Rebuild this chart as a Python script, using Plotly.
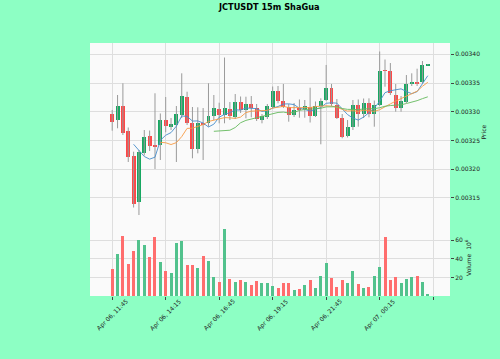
import plotly.graph_objects as go
import pandas as pd

# ---- data ----
open_ = [0.0032955, 0.0032850, 0.0033105, 0.0032664, 0.0032228, 0.0031422, 0.0032272, 0.0032582, 0.0032406, 0.0032420,
         0.0032850, 0.0032742, 0.0032760, 0.0032943, 0.0033261, 0.0032808, 0.0032345, 0.0032803, 0.0032798, 0.0032920,
         0.0033042, 0.0032951, 0.0033042, 0.0032908, 0.0033169, 0.0033030, 0.0033131, 0.0033056, 0.0032864, 0.0032908,
         0.0033087, 0.0033361, 0.0033195, 0.0033087, 0.0032943, 0.0033070, 0.0033047, 0.0033087, 0.0032930, 0.0033105,
         0.0033204, 0.0033413, 0.0033125, 0.0032899, 0.0032577, 0.0032739, 0.0033111, 0.0032956, 0.0033160, 0.0032956,
         0.0033117, 0.0033718, 0.0033709, 0.0033296, 0.0033073, 0.0033174, 0.0033477, 0.0033517, 0.0033523, 0.0033808]
high = [0.0033030, 0.0033291, 0.0033495, 0.0032725, 0.0032303, 0.0032333, 0.0032681, 0.0032672, 0.0033321, 0.0032969,
        0.0033256, 0.0032890, 0.0033099, 0.0033669, 0.0033348, 0.0033082, 0.0033077, 0.0033064, 0.0033495, 0.0033291,
        0.0033157, 0.0033944, 0.0033169, 0.0033308, 0.0033265, 0.0033261, 0.0033273, 0.0033134, 0.0032960, 0.0033134,
        0.0033439, 0.0033448, 0.0033483, 0.0033134, 0.0033152, 0.0033213, 0.0033204, 0.0033418, 0.0033178, 0.0033233,
        0.0033814, 0.0033483, 0.0033221, 0.0032960, 0.0032855, 0.0033204, 0.0033213, 0.0033230, 0.0033233, 0.0033195,
        0.0034049, 0.0033909, 0.0033848, 0.0033483, 0.0033273, 0.0033639, 0.0033669, 0.0033749, 0.0033883, 0.0033830]
low = [0.0032669, 0.0032711, 0.0032594, 0.0032124, 0.0031331, 0.0031200, 0.0032237, 0.0032315, 0.0032002, 0.0032159,
       0.0032641, 0.0032681, 0.0032124, 0.0032890, 0.0032768, 0.0032188, 0.0032275, 0.0032159, 0.0032739, 0.0032855,
       0.0032798, 0.0032798, 0.0032855, 0.0032873, 0.0032977, 0.0032885, 0.0032902, 0.0032838, 0.0032798, 0.0032873,
       0.0033064, 0.0033146, 0.0033064, 0.0032826, 0.0032908, 0.0032895, 0.0032895, 0.0032812, 0.0032908, 0.0032432,
       0.0033186, 0.0033099, 0.0032873, 0.0032537, 0.0032551, 0.0032681, 0.0032739, 0.0032890, 0.0032902, 0.0032739,
       0.0033099, 0.0033436, 0.0033291, 0.0033000, 0.0033000, 0.0033152, 0.0033448, 0.0033448, 0.0033500, 0.0033808]
close = [0.0032826, 0.0033105, 0.0032629, 0.0032216, 0.0031387, 0.0032303, 0.0032563, 0.0032399, 0.0032385, 0.0032852,
         0.0032751, 0.0032794, 0.0032960, 0.0033273, 0.0032812, 0.0032345, 0.0032808, 0.0032777, 0.0032925, 0.0033059,
         0.0032951, 0.0033059, 0.0032925, 0.0033169, 0.0033038, 0.0033131, 0.0033059, 0.0032873, 0.0032925, 0.0033099,
         0.0033361, 0.0033195, 0.0033087, 0.0032943, 0.0033030, 0.0033047, 0.0033091, 0.0032930, 0.0033108, 0.0033186,
         0.0033418, 0.0033134, 0.0032899, 0.0032565, 0.0032733, 0.0033117, 0.0032956, 0.0033160, 0.0032956, 0.0033122,
         0.0033709, 0.0033712, 0.0033326, 0.0033059, 0.0033186, 0.0033477, 0.0033523, 0.0033500, 0.0033814, 0.0033822]
volume = [28.6, 45.2, 64.3, 34.8, 48.4, 60.7, 54.6, 42.3, 63.2, 36.2,
          26.8, 25.1, 57.5, 59.6, 33.0, 33.0, 29.7, 42.7, 37.3, 20.3,
          14.6, 71.9, 18.2, 15.3, 16.8, 14.6, 11.4, 15.7, 13.5, 13.5,
          10.3, 8.1, 13.5, 13.5, 6.7, 7.7, 11.7, 16.8, 8.1, 21.4,
          35.9, 18.9, 9.2, 17.1, 13.5, 26.5, 13.2, 8.1, 9.2, 21.4,
          30.8, 63.6, 17.5, 20.3, 14.0, 17.8, 20.7, 21.4, 14.6, 1.6]

tick_idx = [0, 10, 20, 30, 40, 50, 60]
tick_labels = ["Apr 06, 11:45", "Apr 06, 14:15", "Apr 06, 16:45", "Apr 06, 19:15",
               "Apr 06, 21:45", "Apr 07, 00:15", ""]
price_ticks = [0.00315, 0.00320, 0.00325, 0.00330, 0.00335, 0.00340]
vol_ticks = [20, 40, 60]
mav_windows = [5, 10, 20]

TITLE = "JCTUSDT 15m ShaGua"

# ---- styles ----
FONT = "DejaVu Sans"
PAPER = "#8dffc4"
PLOTBG = "#fafafa"
GRID = "#dedede"
UP = "#17a862"
DOWN = "#ff4747"
VUP = "#52c28d"
VDOWN = "#ff6e6e"
WICK = "#9a9a9a"
MAV_COLORS = ["#4a8fcc", "#f89c45", "#66bb5e"]

n = len(close)
x = list(range(n))
is_up = [c > o for o, c in zip(open_, close)]
body_base = [min(o, c) for o, c in zip(open_, close)]
body_h = [max(abs(c - o), 1.1e-6) for o, c in zip(open_, close)]

wx, wy = [], []
for i in x:
    wx += [i, i, None]
    wy += [low[i], high[i], None]

fig = go.Figure()
fig.add_trace(go.Scatter(x=wx, y=wy, mode="lines", line=dict(color=WICK, width=1),
                         hoverinfo="skip", showlegend=False, xaxis="x", yaxis="y"))
fig.add_trace(go.Bar(x=x, y=body_h, base=body_base, width=0.74,
                     marker=dict(color=[UP if u else DOWN for u in is_up], line=dict(width=0)),
                     showlegend=False, xaxis="x", yaxis="y"))

cs = pd.Series(close)
for w, col in zip(mav_windows, MAV_COLORS):
    ma = cs.rolling(w).mean()
    fig.add_trace(go.Scatter(x=x, y=ma, mode="lines", line=dict(color=col, width=1),
                             opacity=0.9, showlegend=False, xaxis="x", yaxis="y"))

fig.add_trace(go.Bar(x=x, y=volume, width=0.56,
                     marker=dict(color=[VUP if u else VDOWN for u in is_up], line=dict(width=0)),
                     showlegend=False, xaxis="x", yaxis="y2"))

split = (296 - 222) / 253.0

fig.update_layout(
    width=500, height=359,
    margin=dict(l=90, r=50, t=43, b=63),
    paper_bgcolor=PAPER, plot_bgcolor=PLOTBG,
    font=dict(family=FONT, size=6, color="#222"),
    bargap=0, showlegend=False,
    title=dict(text="<b>" + TITLE + "</b>", x=0.498, xref="paper", xanchor="center",
               y=1 - 7.5 / 359, yanchor="middle", font=dict(size=8.2, family=FONT, color="#000")),
    xaxis=dict(domain=[0, 1], anchor="y2", range=[-4.15, 63.15],
               tickmode="array", tickvals=tick_idx,
               showticklabels=False, ticks="outside", ticklen=3, tickcolor="#444",
               showgrid=True, gridcolor=GRID, gridwidth=1, zeroline=False, showline=False),
    yaxis=dict(domain=[split, 1], anchor="x", side="right",
               range=[0.00310784, 0.0034197],
               tickmode="array", tickvals=price_ticks, tickformat=".5f",
               ticks="outside", ticklen=3, tickcolor="#444",
               showgrid=True, gridcolor=GRID, gridwidth=1, zeroline=False, showline=False,
               tickfont=dict(size=6)),
    yaxis2=dict(domain=[0, split], anchor="x", side="right",
                range=[0, 79.8],
                tickmode="array", tickvals=vol_ticks,
                ticks="outside", ticklen=3, tickcolor="#444",
                showgrid=True, gridcolor=GRID, gridwidth=1, zeroline=False, showline=False,
                tickfont=dict(size=6)),
)

# rotated x tick labels (centered on ticks)
for t, lab in zip(tick_idx, tick_labels):
    if lab:
        fig.add_annotation(x=t, xref="x", y=(296 - 315) / 253.0, yref="paper",
                           text=lab, showarrow=False, textangle=-45,
                           xanchor="center", yanchor="middle",
                           font=dict(size=6, family=FONT, color="#222"))

# axis titles
fig.add_annotation(x=(482.5 - 90) / 360.0, xref="paper", y=(296 - 132) / 253.0, yref="paper",
                   text="Price", showarrow=False, textangle=-90,
                   xanchor="center", yanchor="middle", font=dict(size=6, family=FONT, color="#222"))
fig.add_annotation(x=(468 - 90) / 360.0, xref="paper", y=(296 - 258) / 253.0, yref="paper",
                   text="Volume  10<sup>6</sup>", showarrow=False, textangle=-90,
                   xanchor="center", yanchor="middle", font=dict(size=6, family=FONT, color="#222"))

fig.write_html("out.html")
